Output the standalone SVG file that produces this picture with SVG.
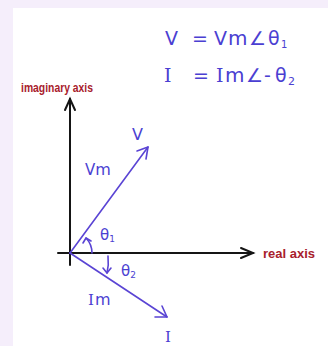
<svg xmlns="http://www.w3.org/2000/svg" width="328" height="346" viewBox="0 0 328 346">
<style>
.hand{font-family:"DejaVu Sans","Liberation Sans",sans-serif;fill:#4b3fd2;font-weight:normal}
.ser{font-family:"DejaVu Serif","Liberation Serif",serif}
.axl{font-family:"Liberation Sans",Arial,sans-serif;font-weight:bold;fill:#a8202c;font-size:12px}
.axis{stroke:#151515;stroke-width:2;fill:none;stroke-linecap:round}
.vec{stroke:#5a44d4;stroke-width:1.6;fill:none;stroke-linecap:round;stroke-linejoin:round}
</style>
<rect x="0" y="0" width="328" height="346" fill="#f5eefb"/>
<rect x="13" y="8" width="315" height="338" fill="#ffffff"/>
<g id="equations">
<text class="hand" y="45" font-size="19"><tspan x="165">V</tspan><tspan x="192">=</tspan><tspan x="214">V</tspan><tspan x="228" font-size="20">m</tspan><tspan x="249">∠</tspan><tspan x="268">θ</tspan><tspan x="281" font-size="10" dy="3">1</tspan></text>
<text class="hand" y="82" font-size="19"><tspan class="ser" x="164">I</tspan><tspan x="193">=</tspan><tspan class="ser" x="216">I</tspan><tspan x="225" font-size="20">m</tspan><tspan x="246">∠</tspan><tspan x="264">-</tspan><tspan x="275">θ</tspan><tspan x="288" font-size="11" dy="3">2</tspan></text>
</g>
<g id="connectors">
<g id="imaginary-axis"><path class="axis" d="M70,265 V99"/><path class="axis" d="M65,110 L70,99 L75,110"/></g>
<g id="real-axis"><path class="axis" d="M58,253 H253"/><path class="axis" d="M241,248 L253,253 L241,258"/></g>
<g id="V-vector"><path class="vec" d="M70,253 L148,147"/><path class="vec" d="M137,151 L148,147 L146,159"/></g>
<g id="I-vector"><path class="vec" d="M70,253 L167,317"/><path class="vec" d="M155,317 L167,317 L162,306"/></g>
<g id="theta1-arc"><path class="vec" d="M92,253 A22,22 0 0 0 86,238"/><path class="vec" d="M83,243 L86,238 L91,241"/></g>
<g id="theta2-arc"><path class="vec" d="M108,256 Q109,265 107,273"/><path class="vec" d="M103,268 L107,273 L111,268"/></g>
</g>
<g id="labels">
<text class="axl" x="21" y="92" textLength="72" lengthAdjust="spacingAndGlyphs">imaginary axis</text>
<text class="axl" x="263" y="258" textLength="52" lengthAdjust="spacingAndGlyphs">real axis</text>
<text class="hand" x="132" y="140" font-size="16">V</text>
<text class="hand" x="85" y="175" font-size="15">V<tspan font-size="16">m</tspan></text>
<text class="hand" x="100" y="240" font-size="15">θ<tspan font-size="9" dy="2">1</tspan></text>
<text class="hand" x="121" y="276" font-size="15">θ<tspan font-size="9" dy="2">2</tspan></text>
<text class="hand" x="88" y="305" font-size="15"><tspan class="ser">I</tspan><tspan dx="1" font-size="16">m</tspan></text>
<text class="hand ser" x="165" y="342" font-size="15">I</text>
</g>
</svg>
